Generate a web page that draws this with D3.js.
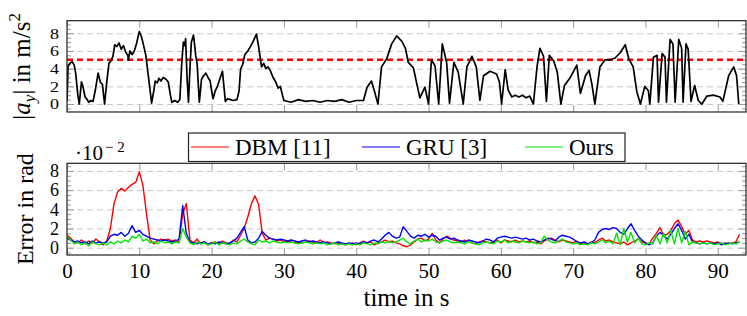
<!DOCTYPE html>
<html>
<head>
<meta charset="utf-8">
<script src="https://cdn.jsdelivr.net/npm/d3@7"></script>
<style>
  body { margin: 0; background: #fff; }
  svg text { font-family: "Liberation Serif", "Times New Roman", serif; }
  .grid line { stroke: #c8c8c8; stroke-dasharray: 6,4; }
  .grid path { display: none; }
  .ticks line { stroke: #999; }
  .ticks path { display: none; }
</style>
</head>
<body>
<div id="chart"></div>
<script>
// ---- data ----
// lateral acceleration |a_y| in m/s^2
const accT = [
  0, 0.15, 0.4, 0.7, 1.0, 1.2, 1.5, 1.7, 2.0, 2.2,
  2.5, 2.8, 3.0, 3.3, 3.6, 3.9, 4.3, 4.6, 4.9, 5.2,
  5.5, 5.8, 6.1, 6.35, 6.6, 6.9, 7.2, 7.5, 7.8, 8.1,
  8.4, 8.5, 8.7, 9.0, 9.3, 9.6, 10.0, 10.3, 10.6, 10.9,
  11.2, 11.5, 11.7, 12.0, 12.2, 12.5, 12.7, 13.0, 13.3, 13.7,
  14.0, 14.3, 14.5, 14.9, 15.3, 15.6, 15.9, 16.1, 16.3, 16.4,
  16.6, 16.8, 17.0, 17.2, 17.5, 17.8, 18.0, 18.3, 18.6, 18.9,
  19.2, 19.5, 19.8, 20.0, 20.2, 20.5, 20.8, 21.2, 21.5, 21.7,
  21.9, 22.2, 22.6, 23.0, 23.5, 23.8, 24.0, 24.3, 24.6, 25.0,
  25.3, 25.7, 26.2, 26.5, 26.9, 27.2, 27.5, 27.8, 28.1, 28.5,
  28.8, 29.2, 29.5, 29.8, 30.0, 31.0, 32.0, 33.0, 34.0, 35.0,
  36.0, 37.0, 38.0, 39.0, 40.0, 41.0, 41.5, 42.1, 42.5, 43.0,
  43.5, 44.2, 44.9, 45.6, 46.3, 46.8, 47.2, 47.9, 48.4, 48.8,
  49.5, 50.0, 50.4, 50.9, 51.4, 51.9, 52.5, 52.9, 53.5, 54.1,
  54.8, 55.3, 56.0, 56.6, 57.1, 57.6, 58.5, 59.4, 59.8, 60.1,
  60.6, 61.0, 61.5, 62.0, 62.5, 63.0, 63.5, 64.0, 64.5, 65.0,
  65.4, 65.9, 66.3, 66.7, 67.3, 67.8, 68.3, 68.8, 69.6, 70.5,
  71.0, 71.7, 72.2, 72.6, 73.0, 73.7, 74.4, 75.1, 75.8, 76.5,
  77.2, 77.7, 78.3, 78.8, 79.3, 79.9, 80.4, 80.6, 81.1, 81.6,
  81.8, 82.3, 82.7, 82.9, 83.4, 83.8, 84.1, 84.6, 85.0, 85.2,
  85.6, 85.9, 86.3, 86.8, 87.3, 87.8, 88.5, 89.4, 90.3, 90.7,
  91.5, 92.2, 92.6, 92.9
];
const accV = [
  0.3, 4.3, 4.6, 4.8, 4.4, 3.5, 1.0, 0.0, 2.5, 2.0,
  0.8, 0.5, 0.2, 0.4, 0.3, 1.5, 3.5, 2.5, 2.2, 0.0,
  2.5, 4.6, 4.9, 5.4, 6.7, 6.5, 6.9, 6.2, 6.6, 5.9,
  5.5, 5.0, 6.0, 5.6, 6.0, 6.8, 8.2, 7.6, 6.6, 5.5,
  3.5, 1.5, 0.1, 1.5, 2.6, 2.4, 2.9, 2.6, 3.0, 2.8,
  2.5, 1.0, 0.2, 0.4, 0.2, 0.5, 5.0, 7.0, 6.6, 7.4,
  3.0, 0.2, 4.0, 7.0, 7.8, 5.5, 4.5, 0.2, 2.8, 3.2,
  3.5, 3.0, 2.6, 1.5, 0.6, 1.5, 2.0, 3.0, 3.7, 2.0,
  0.3, 0.6, 0.5, 0.4, 0.5, 1.5, 3.9, 4.5, 5.6, 6.0,
  6.4, 7.0, 7.9, 6.5, 4.2, 4.6, 4.0, 4.2, 3.8, 3.0,
  2.6, 1.8, 2.0, 1.0, 0.4, 0.2, 0.5, 0.3, 0.4, 0.2,
  0.4, 0.3, 0.5, 0.2, 0.4, 0.4, 1.9, 2.6, 1.5, 0.0,
  4.2, 5.1, 6.8, 7.7, 7.1, 6.3, 4.7, 4.1, 2.2, 0.7,
  1.9, 0.0, 5.0, 4.3, 0.0, 6.8, 4.7, 0.1, 4.7, 3.6,
  0.0, 4.2, 5.4, 4.2, 0.4, 3.2, 3.7, 3.4, 2.5, 0.0,
  3.9, 1.6, 0.8, 1.0, 0.8, 1.0, 0.7, 0.9, 0.0, 4.2,
  6.3, 5.4, 0.3, 5.5, 4.9, 3.6, 0.0, 2.1, 3.0, 4.4,
  1.2, 3.2, 3.8, 2.2, 0.0, 4.2, 5.0, 5.0, 5.2, 5.8,
  6.7, 5.1, 4.2, 1.4, 0.0, 2.0, 1.5, 0.0, 5.3, 5.5,
  0.2, 5.7, 5.3, 0.2, 7.3, 6.8, 0.2, 7.3, 6.3, 0.2,
  6.8, 6.2, 0.3, 2.1, 0.4, 0.0, 0.9, 1.0, 0.8, 0.3,
  3.2, 4.2, 3.2, 0.0
];
const accLimit = 5;

// errors in rad (x 1e-2), one sample every 0.5 s from 0 to 93 s
const errStep = 0.5;
const errDBM = [
  1.3, 1.0, 0.6, 0.5, 0.8, 0.4, 0.7, 0.5, 0.9, 0.6,
  0.3, 0.7, 2.0, 4.6, 5.8, 6.2, 5.9, 6.3, 6.6, 6.8,
  7.9, 6.5, 3.5, 0.8, 0.4, 0.7, 0.9, 0.8, 0.9, 0.7,
  0.8, 0.6, 3.5, 4.6, 0.8, 0.5, 0.9, 0.4, 0.6, 0.3,
  0.5, 0.6, 0.4, 0.7, 0.5, 0.4, 0.8, 0.6, 1.3, 2.0,
  3.2, 4.6, 5.4, 4.5, 1.5, 0.8, 1.0, 0.9, 0.7, 0.8,
  0.6, 0.7, 0.6, 0.5, 0.6, 0.5, 0.6, 0.7, 0.6, 0.5,
  0.8, 0.5, 0.6, 0.5, 0.4, 0.5, 0.4, 0.3, 0.4, 0.5,
  0.3, 0.5, 0.7, 0.5, 0.6, 0.3, 0.5, 0.6, 0.8, 0.6,
  0.7, 0.5, 0.4, 0.2, 0.1, 0.3, 0.6, 0.9, 1.0, 0.7,
  0.9, 1.5, 0.8, 0.5, 0.9, 1.2, 1.0, 0.8, 0.7, 0.6,
  0.8, 0.6, 0.5, 0.4, 0.6, 0.7, 0.6, 0.5, 0.6, 0.8,
  0.5, 0.8, 0.7, 0.6, 0.8, 0.6, 0.7, 0.6, 0.7, 0.5,
  0.6, 0.4, 0.7, 0.9, 1.0, 0.8, 0.6, 0.8, 0.7, 0.6,
  0.5, 0.7, 0.4, 0.5, 0.4, 0.6, 0.5, 0.8, 1.0, 0.7,
  0.8, 0.6, 0.5, 0.4, 0.6, 0.3, 0.5, 0.7, 0.9, 0.6,
  0.5, 0.4, 1.0, 1.5, 2.1, 1.3, 1.4, 1.8, 2.5, 2.9,
  2.2, 1.4, 1.8, 0.8, 0.6, 0.7, 0.6, 0.7, 0.6, 0.5,
  0.6, 0.4, 0.5, 0.4, 0.5, 0.6, 1.4
];
const errGRU = [
  1.0, 0.8, 0.6, 0.7, 0.5, 0.6, 0.4, 0.7, 0.5, 0.6,
  0.5, 0.6, 1.2, 1.4, 1.3, 1.6, 1.2, 1.5, 2.3, 1.6,
  1.8, 1.4, 1.2, 1.0, 0.9, 0.8, 0.7, 0.8, 0.7, 0.6,
  0.7, 0.9, 4.4, 1.5, 0.6, 0.5, 0.4, 0.5, 0.6, 0.4,
  0.5, 0.4, 0.6, 0.5, 0.4, 0.5, 0.7, 1.0, 1.6, 2.2,
  0.8, 0.5, 0.6, 1.0, 1.7, 1.3, 1.0, 0.9, 0.8, 0.9,
  0.8, 0.7, 0.8, 0.7, 0.6, 0.7, 0.8, 0.6, 0.7, 0.6,
  0.5, 0.6, 0.5, 0.4, 0.5, 0.6, 0.5, 0.4, 0.5, 0.4,
  0.5, 0.4, 0.6, 0.5, 0.7, 0.8, 0.6, 0.9, 1.3, 1.6,
  1.2, 1.0, 1.1, 2.2, 1.7, 1.2, 1.0, 1.3, 1.2, 1.4,
  1.1, 1.3, 1.2, 0.8, 1.0, 1.1, 0.9, 1.0, 0.8, 0.7,
  0.6, 0.8, 0.7, 0.6, 0.5, 0.7, 0.9, 0.8, 0.6, 1.0,
  1.1, 1.2, 1.1, 1.0, 1.1, 1.0, 0.9, 1.0, 0.8, 0.9,
  0.7, 0.6, 0.8, 1.0, 0.9, 0.7, 1.1, 1.3, 1.2, 1.1,
  0.9, 0.6, 0.5, 0.6, 0.4, 0.5, 0.8, 1.6, 1.9, 2.0,
  1.9, 2.1, 2.0, 1.6, 1.4, 2.0, 2.5, 1.8, 1.2, 0.8,
  0.5, 0.3, 0.5, 1.2, 1.6, 1.3, 0.9, 1.4, 2.0, 2.5,
  1.8, 0.9, 1.4, 0.6, 0.5, 0.4, 0.5, 0.4, 0.5, 0.4,
  0.5, 0.3, 0.4, 0.5, 0.4, 0.5, 0.6
];
const errOurs = [
  1.2, 0.8, 0.4, 0.6, 0.3, 0.5, 0.2, 0.6, 0.4, 0.3,
  0.5, 0.3, 0.6, 0.4, 0.7, 0.5, 0.8, 0.6, 1.2, 1.0,
  1.4, 0.7, 0.9, 0.5, 0.6, 0.4, 0.7, 0.5, 0.6, 0.4,
  0.6, 0.5, 2.0, 1.1, 0.5, 0.3, 0.6, 0.4, 0.5, 0.3,
  0.4, 0.6, 0.3, 0.5, 0.4, 0.3, 0.5, 0.4, 0.7, 0.9,
  0.6, 0.4, 0.3, 0.8, 0.6, 0.7, 0.5, 0.7, 0.6, 0.5,
  0.6, 0.5, 0.6, 0.5, 0.4, 0.5, 0.6, 0.5, 0.4, 0.5,
  0.4, 0.5, 0.3, 0.4, 0.5, 0.3, 0.4, 0.3, 0.4, 0.3,
  0.4, 0.3, 0.5, 0.4, 0.3, 0.5, 0.4, 0.6, 0.5, 0.7,
  0.5, 0.6, 0.8, 1.0, 0.6, 0.4, 0.7, 0.9, 0.6, 0.8,
  0.7, 0.9, 0.6, 0.5, 0.7, 0.8, 0.6, 0.5, 0.6, 0.5,
  0.4, 0.6, 0.5, 0.4, 0.3, 0.5, 0.6, 0.5, 0.4, 0.7,
  0.6, 0.8, 0.5, 0.7, 0.6, 0.5, 0.7, 0.6, 0.5, 0.6,
  0.4, 0.5, 1.2, 0.8, 0.6, 0.5, 0.7, 0.9, 0.6, 0.5,
  0.4, 0.5, 0.3, 0.4, 0.3, 0.5, 0.4, 0.6, 0.8, 0.5,
  0.7, 0.4, 1.5, 0.3, 2.0, 0.6, 1.6, 0.5, 1.0, 0.4,
  0.3, 0.5, 0.4, 1.3, 0.4, 1.5, 0.5, 1.8, 0.4, 2.0,
  0.5, 1.7, 0.3, 0.6, 0.5, 0.4, 0.5, 0.4, 0.5, 0.3,
  0.4, 0.5, 0.3, 0.4, 0.5, 0.4, 0.6
];
const seriesNames = ["DBM [11]", "GRU [3]", "Ours"];
const seriesColors = ["#ff0000", "#0000ff", "#00e600"];
const xTicks = [0, 10, 20, 30, 40, 50, 60, 70, 80, 90];
const yTicks = [0, 2, 4, 6, 8];

// ---- layout ----
const W = 747, H = 316;
const left = 67, right = 746;
const topBox = [20.7, 112], botBox = [163.3, 255];

const x = d3.scaleLinear().domain([0, 93.9]).range([left, right]);
const yTop = d3.scaleLinear().domain([-0.9, 9.42]).range([topBox[1], topBox[0]]);
const yBot = d3.scaleLinear().domain([-0.76, 8.8]).range([botBox[1], botBox[0]]);

const svg = d3.select("#chart").append("svg").attr("width", W).attr("height", H);

const minorOf = (y) => d3.range(Math.ceil(y.domain()[0] * 2) / 2, y.domain()[1], 0.5)
  .filter(v => !yTicks.includes(v));

// draws grid, frame and ticks for one panel
const panel = (y, box, name, showXLabels, yFont, yLabelScale) => {
  const g = svg.append("g").attr("class", name);

  g.append("clipPath").attr("id", "clip-" + name)
    .append("rect").attr("x", left).attr("y", box[0]).attr("width", right - left).attr("height", box[1] - box[0]);

  // dashed horizontal grid
  g.append("g").attr("class", "grid").attr("transform", `translate(${left},0)`)
    .call(d3.axisLeft(y).tickValues(yTicks).tickSize(-(right - left)).tickFormat(""));

  // ticks (inside the box, all four sides)
  g.append("g").attr("class", "ticks").attr("transform", `translate(0,${box[1]})`)
    .call(d3.axisBottom(x).tickValues(xTicks).tickSizeInner(-7).tickSizeOuter(0).tickFormat(""));
  g.append("g").attr("class", "ticks").attr("transform", `translate(0,${box[0]})`)
    .call(d3.axisTop(x).tickValues(xTicks).tickSizeInner(-7).tickSizeOuter(0).tickFormat(""));
  g.append("g").attr("class", "ticks").attr("transform", `translate(${left},0)`)
    .call(d3.axisLeft(y).tickValues(minorOf(y)).tickSizeInner(-4).tickSizeOuter(0).tickFormat(""));
  g.append("g").attr("class", "ticks").attr("transform", `translate(${right},0)`)
    .call(d3.axisRight(y).tickValues(minorOf(y)).tickSizeInner(-4).tickSizeOuter(0).tickFormat(""));
  g.append("g").attr("class", "ticks").attr("transform", `translate(${right},0)`)
    .call(d3.axisRight(y).tickValues(yTicks).tickSizeInner(-7).tickSizeOuter(0).tickFormat(""));
  const yAxis = g.append("g").attr("class", "ticks").attr("transform", `translate(${left},0)`)
    .call(d3.axisLeft(y).tickValues(yTicks).tickSizeInner(-7).tickSizeOuter(0).tickPadding(8))
    .attr("font-family", null);
  yAxis.selectAll("text").attr("fill", "#000").style("font-size", yFont + "px")
    .attr("transform", `scale(1,${yLabelScale})`);

  if (showXLabels) {
    const xAxis = g.append("g").attr("class", "ticks").attr("transform", `translate(0,${box[1]})`)
      .call(d3.axisBottom(x).tickValues(xTicks).tickSize(0).tickPadding(8))
      .attr("font-family", null);
    xAxis.selectAll("text").attr("fill", "#000").style("font-size", "21px");
  }
  return g;
};

// ---- top panel: |a_y| ----
const gTop = panel(yTop, topBox, "top", false, 18, 0.85);
gTop.append("line")
  .attr("x1", left).attr("x2", right).attr("y1", yTop(accLimit)).attr("y2", yTop(accLimit))
  .attr("stroke", "#ff0000").attr("stroke-width", 2.5).attr("stroke-dasharray", "6,4");
gTop.append("path")
  .datum(accV)
  .attr("clip-path", "url(#clip-top)")
  .attr("fill", "none").attr("stroke", "#000").attr("stroke-width", 1.7).attr("stroke-linejoin", "round")
  .attr("d", d3.line().x((d, i) => x(accT[i])).y(d => yTop(d)));
gTop.append("rect")
  .attr("x", left).attr("y", topBox[0]).attr("width", right - left).attr("height", topBox[1] - topBox[0])
  .attr("fill", "none").attr("stroke", "#222").attr("stroke-width", 1.2);

const topLabel = svg.append("text")
  .attr("transform", `translate(30,${(topBox[0] + topBox[1]) / 2}) rotate(-90)`)
  .attr("text-anchor", "middle").style("font-size", "25px");
topLabel.append("tspan").text("|");
topLabel.append("tspan").attr("font-style", "italic").text("a");
topLabel.append("tspan").attr("font-style", "italic").attr("dy", 5).style("font-size", "17px").text("y");
topLabel.append("tspan").attr("dy", -5).text("| in m/s");
topLabel.append("tspan").attr("dy", -10).style("font-size", "17px").text("2");

// ---- bottom panel: errors ----
const gBot = panel(yBot, botBox, "bot", true, 18, 1);
const errLine = d3.line().x((d, i) => x(i * errStep)).y(d => yBot(d));
gBot.append("g").attr("clip-path", "url(#clip-bot)")
  .selectAll("path.err")
  .data([errDBM, errGRU, errOurs])
  .enter().append("path")
  .classed("err", true)
  .attr("fill", "none").attr("stroke-width", 1.4).attr("stroke-linejoin", "round")
  .attr("stroke", (d, i) => seriesColors[i])
  .attr("d", errLine);
gBot.append("rect")
  .attr("x", left).attr("y", botBox[0]).attr("width", right - left).attr("height", botBox[1] - botBox[0])
  .attr("fill", "none").attr("stroke", "#222").attr("stroke-width", 1.2);

svg.append("text")
  .attr("transform", `translate(33,${(botBox[0] + botBox[1]) / 2}) rotate(-90)`)
  .attr("text-anchor", "middle").style("font-size", "24px")
  .text("Error in rad");

// scale factor label
const scaleLabel = svg.append("text").attr("x", 75).attr("y", 160).style("font-size", "21px");
scaleLabel.append("tspan").text("\u00b710");
scaleLabel.append("tspan").attr("dy", -8).attr("dx", 2).style("font-size", "15px").text("\u2212 2");

svg.append("text")
  .attr("x", (left + right) / 2).attr("y", 306)
  .attr("text-anchor", "middle").style("font-size", "25px")
  .text("time in s");

// ---- legend ----
const legendX = [196, 367, 530];
const legend = svg.append("g").attr("class", "legend");
legend.append("rect")
  .attr("x", 188.5).attr("y", 133).attr("width", 436.5).attr("height", 28.5)
  .attr("fill", "#fff").attr("stroke", "#222").attr("stroke-width", 1.2);
const items = legend.selectAll("g.item").data(seriesNames).enter().append("g")
  .classed("item", true)
  .attr("transform", (d, i) => `translate(${legendX[i]},147)`);
items.append("line").attr("x1", -5).attr("x2", 33).attr("y1", 0).attr("y2", 0)
  .attr("stroke", (d, i) => seriesColors[i]).attr("stroke-width", 1.2);
items.append("text").attr("x", 39).attr("y", 8).style("font-size", "23px").text(d => d);
</script>
</body>
</html>
